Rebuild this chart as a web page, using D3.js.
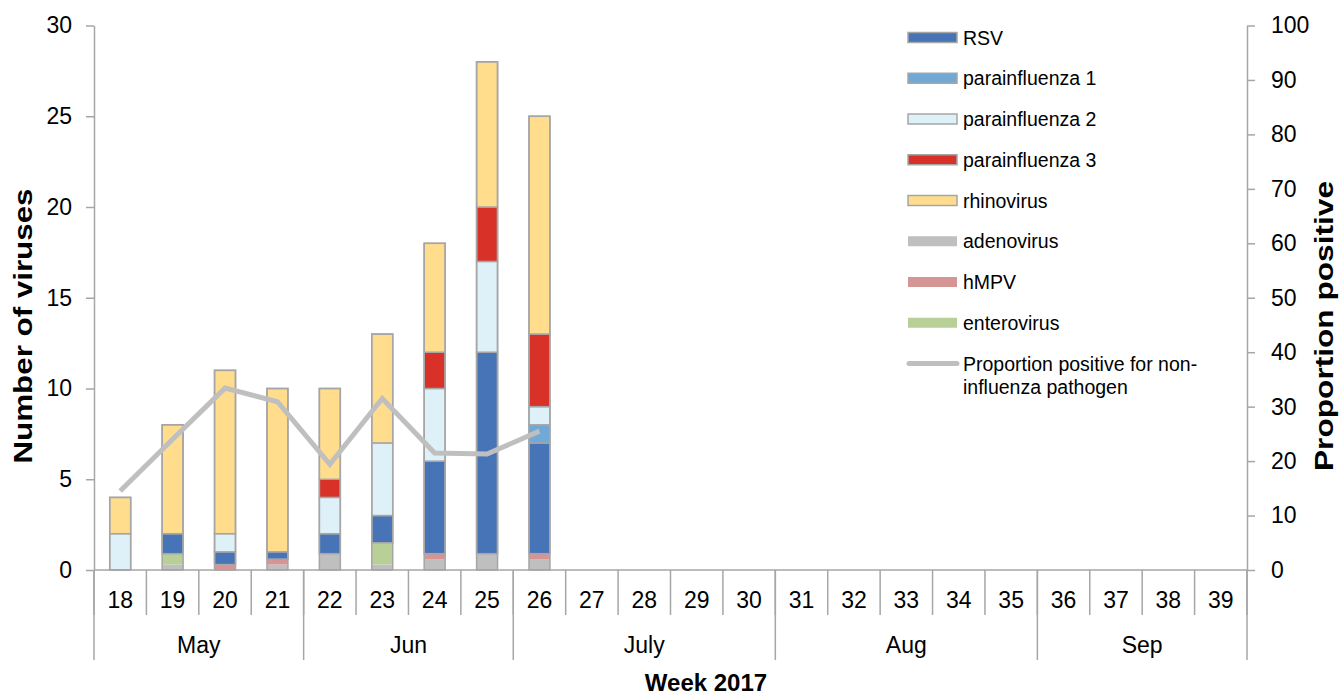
<!DOCTYPE html>
<html>
<head>
<meta charset="utf-8">
<script src="https://cdn.jsdelivr.net/npm/d3@7"></script>
<style>
  body { margin: 0; background: #fff; }
  svg { display: block; font-family: "Liberation Sans", Arial, sans-serif; }
</style>
</head>
<body>
<svg id="chart"></svg>
<script>
// DATA
var weeks = [18,19,20,21,22,23,24,25,26,27,28,29,30,31,32,33,34,35,36,37,38,39];
var dataWeeks = [18,19,20,21,22,23,24,25,26];
var monthNames = ["May","Jun","July","Aug","Sep"];
var monthFirstWeek = [18,22,26,31,36];
var monthLastWeek = [21,25,30,35,39];

var rsv    = [0, 1.1, 0.7, 0.4, 1.1, 1.5, 5.1, 11.1, 6.1];
var para1  = [0, 0, 0, 0, 0, 0, 0, 0, 1];
var para2  = [2, 0, 1, 0, 2, 4, 4, 5, 1];
var para3  = [0, 0, 0, 0, 1, 0, 2, 3, 4];
var rhino  = [2, 6, 9, 9, 5, 6, 6, 8, 12];
var adeno  = [0, 0.3, 0, 0.3, 0.9, 0.3, 0.6, 0.9, 0.6];
var hmpv   = [0, 0, 0.3, 0.3, 0, 0, 0.3, 0, 0.3];
var entero = [0, 0.6, 0, 0, 0, 1.2, 0, 0, 0];
var proportion = [14.5, 24, 33.4, 30.9, 19.4, 31.5, 21.5, 21.3, 25.5];

var leftTicks = [0,5,10,15,20,25,30];
var rightTicks = [0,10,20,30,40,50,60,70,80,90,100];

// series: name, values, colour, outlined?
var series = [
  {key: "adenovirus", values: adeno, color: "#bfbfbf", outline: false},
  {key: "hMPV", values: hmpv, color: "#d69595", outline: false},
  {key: "enterovirus", values: entero, color: "#b8cf97", outline: false},
  {key: "RSV", values: rsv, color: "#4674b6", outline: true},
  {key: "parainfluenza 1", values: para1, color: "#71a9d6", outline: true},
  {key: "parainfluenza 2", values: para2, color: "#dff1f8", outline: true},
  {key: "parainfluenza 3", values: para3, color: "#d83128", outline: true},
  {key: "rhinovirus", values: rhino, color: "#ffdd8d", outline: true}
];
var legendOrder = ["RSV","parainfluenza 1","parainfluenza 2","parainfluenza 3","rhinovirus","adenovirus","hMPV","enterovirus"];

// SIZES
var width = 1340, height = 697;
var margin = {top: 25.5, right: 93, bottom: 127, left: 94};
var axisGrey = "#a6a6a6";

var svg = d3.select("#chart").attr("width", width).attr("height", height);

// SCALES
var x = d3.scaleBand()
  .domain(weeks)
  .range([margin.left, width - margin.right])
  .padding(0);

var yLeft = d3.scaleLinear()
  .domain([0, 30])
  .range([height - margin.bottom, margin.top]);

var yRight = d3.scaleLinear()
  .domain([0, 100])
  .range([height - margin.bottom, margin.top]);

var y0 = height - margin.bottom;

// BARS
var table = dataWeeks.map(function(w, i){
  var row = {week: w};
  series.forEach(function(s){ row[s.key] = s.values[i]; });
  return row;
});

var stack = d3.stack().keys(series.map(function(s){ return s.key; }));
var stacked = stack(table);

var barW = x.bandwidth() * 0.4;
var bars = svg.append("g").attr("id", "bars");

bars.selectAll("g.layer")
  .data(stacked)
  .join("g")
  .attr("class", "layer")
  .attr("fill", function(d, i){ return series[i].color; })
  .attr("stroke", function(d, i){ return series[i].outline ? axisGrey : "none"; })
  .attr("stroke-width", 1.5)
  .selectAll("rect")
  .data(function(d){ return d.filter(function(p){ return p[1] - p[0] > 0; }); })
  .join("rect")
  .attr("x", function(d){ return x(d.data.week) + (x.bandwidth() - barW) / 2; })
  .attr("width", barW)
  .attr("y", function(d){ return yLeft(d[1]); })
  .attr("height", function(d){ return yLeft(d[0]) - yLeft(d[1]); });

// outline of whole column
bars.selectAll("rect.total")
  .data(table)
  .join("rect")
  .attr("class", "total")
  .attr("fill", "none")
  .attr("stroke", axisGrey)
  .attr("stroke-width", 1.5)
  .attr("x", function(d){ return x(d.week) + (x.bandwidth() - barW) / 2; })
  .attr("width", barW)
  .attr("y", function(d){ return yLeft(d3.sum(series, function(s){ return d[s.key]; })); })
  .attr("height", function(d){ return y0 - yLeft(d3.sum(series, function(s){ return d[s.key]; })); });

// LINE
var line = d3.line()
  .x(function(d, i){ return x(dataWeeks[i]) + x.bandwidth() / 2; })
  .y(function(d){ return yRight(d); });

svg.append("path")
  .datum(proportion)
  .attr("d", line)
  .attr("fill", "none")
  .attr("stroke", "#bfbfbf")
  .attr("stroke-width", 5)
  .attr("stroke-linejoin", "miter");

// AXES
function styleAxis(g){
  g.select(".domain").attr("stroke", axisGrey).attr("stroke-width", 1.5);
  g.selectAll(".tick line").attr("stroke", axisGrey).attr("stroke-width", 1.5);
  g.selectAll(".tick text").attr("fill", "#000").style("font-size", "23px")
    .style("font-family", "'Liberation Sans', Arial, sans-serif");
}

svg.append("g")
  .attr("transform", "translate(" + margin.left + ",0)")
  .call(d3.axisLeft(yLeft).tickValues(leftTicks).tickSize(8).tickSizeOuter(0).tickPadding(14))
  .call(styleAxis);

svg.append("g")
  .attr("transform", "translate(" + (width - margin.right) + ",0)")
  .call(d3.axisRight(yRight).tickValues(rightTicks).tickSize(8).tickSizeOuter(0).tickPadding(16))
  .call(styleAxis);

// X axis: baseline, week separators, month separators
var xAxis = svg.append("g").attr("id", "xAxis");

xAxis.append("line")
  .attr("x1", margin.left).attr("x2", width - margin.right)
  .attr("y1", y0).attr("y2", y0)
  .attr("stroke", axisGrey).attr("stroke-width", 1.5);

var weekEdges = weeks.map(function(w){ return x(w); }).concat([x(weeks[weeks.length - 1]) + x.bandwidth()]);

xAxis.selectAll("line.week")
  .data(weekEdges)
  .join("line")
  .attr("class", "week")
  .attr("x1", function(d){ return d; }).attr("x2", function(d){ return d; })
  .attr("y1", y0).attr("y2", y0 + 45)
  .attr("stroke", axisGrey).attr("stroke-width", 1.5);

var monthEdges = monthFirstWeek.map(function(w){ return x(w); }).concat([x(39) + x.bandwidth()]);

xAxis.selectAll("line.month")
  .data(monthEdges)
  .join("line")
  .attr("class", "month")
  .attr("x1", function(d){ return d; }).attr("x2", function(d){ return d; })
  .attr("y1", y0).attr("y2", y0 + 90)
  .attr("stroke", axisGrey).attr("stroke-width", 1.5);

xAxis.selectAll("text.week")
  .data(weeks)
  .join("text")
  .attr("class", "week")
  .attr("x", function(d){ return x(d) + x.bandwidth() / 2; })
  .attr("y", y0 + 38)
  .attr("text-anchor", "middle")
  .style("font-size", "23px")
  .text(function(d){ return d; });

xAxis.selectAll("text.month")
  .data(monthNames)
  .join("text")
  .attr("class", "month")
  .attr("x", function(d, i){ return (x(monthFirstWeek[i]) + x(monthLastWeek[i]) + x.bandwidth()) / 2; })
  .attr("y", y0 + 83)
  .attr("text-anchor", "middle")
  .style("font-size", "23px")
  .text(function(d){ return d; });

// TITLES
svg.append("text")
  .attr("transform", "translate(32," + 326 + ") rotate(-90)")
  .attr("text-anchor", "middle")
  .attr("textLength", 275)
  .attr("lengthAdjust", "spacingAndGlyphs")
  .style("font-size", "26px").style("font-weight", "bold")
  .text("Number of viruses");

svg.append("text")
  .attr("transform", "translate(1333," + 326 + ") rotate(-90)")
  .attr("text-anchor", "middle")
  .attr("textLength", 290)
  .attr("lengthAdjust", "spacingAndGlyphs")
  .style("font-size", "26px").style("font-weight", "bold")
  .text("Proportion positive");

svg.append("text")
  .attr("x", 706).attr("y", 691)
  .attr("text-anchor", "middle")
  .style("font-size", "24px").style("font-weight", "bold")
  .text("Week 2017");

// LEGEND
var legend = svg.append("g").attr("id", "legend");
var legY = d3.scalePoint().domain(legendOrder.concat(["line"])).range([37.5, 363.5]);
var legItems = legendOrder.map(function(k){ return series.find(function(s){ return s.key === k; }); });

legend.selectAll("rect")
  .data(legItems)
  .join("rect")
  .attr("x", 908).attr("width", 49)
  .attr("y", function(d){ return legY(d.key) - 5; })
  .attr("height", 10)
  .attr("fill", function(d){ return d.color; })
  .attr("stroke", function(d){ return d.outline ? axisGrey : "none"; })
  .attr("stroke-width", 1.5);

legend.selectAll("text.item")
  .data(legItems)
  .join("text")
  .attr("class", "item")
  .attr("x", 963)
  .attr("y", function(d){ return legY(d.key) + 7; })
  .style("font-size", "19.5px")
  .text(function(d){ return d.key; });

legend.append("line")
  .attr("x1", 909).attr("x2", 957)
  .attr("y1", legY("line")).attr("y2", legY("line"))
  .attr("stroke", "#bfbfbf").attr("stroke-width", 5).attr("stroke-linecap", "round");

legend.append("text")
  .attr("x", 963).attr("y", legY("line") + 7)
  .style("font-size", "19.5px")
  .text("Proportion positive for non-");

legend.append("text")
  .attr("x", 963).attr("y", legY("line") + 30)
  .style("font-size", "19.5px")
  .text("influenza pathogen");
</script>
</body>
</html>
